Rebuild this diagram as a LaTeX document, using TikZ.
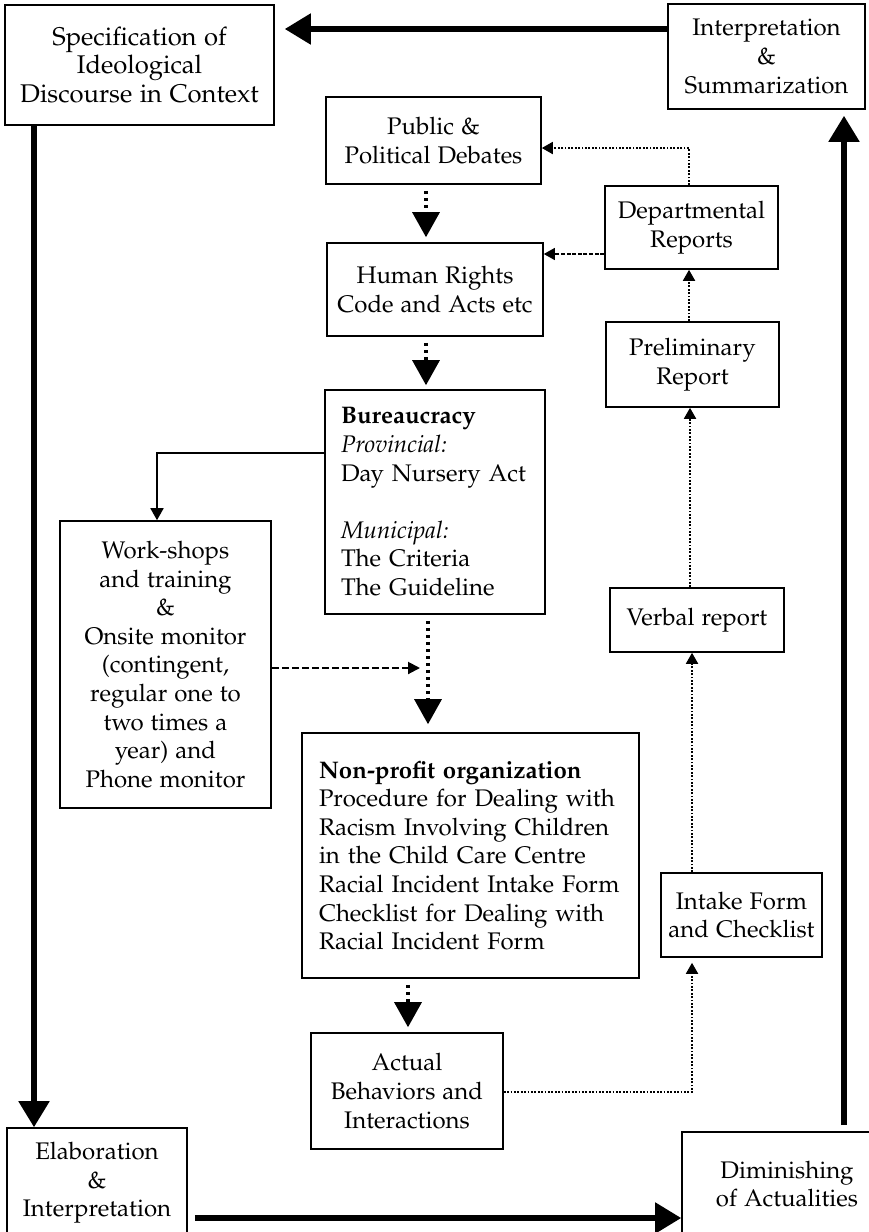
\documentclass[tikz,border=0pt]{standalone}
\usepackage[T1]{fontenc}
\usepackage{mathpazo}
\usetikzlibrary{arrows.meta}
\begin{document}
\begin{tikzpicture}[x=0.5pt,y=-0.5pt,
  box/.style={draw, line width=0.8pt, align=center, inner sep=0pt, font=\fontfamily{pplx}\fontsize{12}{14.3}\selectfont},
  big/.style={line width=2.6pt, -{Triangle[length=13pt,width=15pt]}},
  thickdot/.style={line width=1.6pt, dash pattern=on 1.6pt off 1.9pt, -{Triangle[length=12.5pt,width=13.5pt]}},
  thindot/.style={line width=0.9pt, dash pattern=on 0.9pt off 0.8pt, -{Triangle[length=5.5pt,width=6pt]}},
  thindash/.style={line width=0.6pt, dash pattern=on 2pt off 0.8pt, -{Triangle[length=5.5pt,width=6pt]}},
  dasharr/.style={line width=1pt, dash pattern=on 3.5pt off 1.5pt, -{Triangle[length=6pt,width=6pt]}},
  solidarr/.style={line width=0.9pt, -{Triangle[length=6pt,width=6.5pt]}}
]
\path[use as bounding box, fill=white] (0,0) rectangle (868,1232);

% nodes
\node[box, minimum width=134.5pt, minimum height=60pt, font=\fontfamily{pplx}\fontsize{12.8}{14.3}\selectfont] (spec) at (139.5,65)
  {Specification of\\Ideological\\Discourse in Context};
\node[box, minimum width=98.5pt, minimum height=52.5pt] (interp) at (766.5,56.5)
  {Interpretation\\\&\\Summarization};
\node[box, minimum width=107.5pt, minimum height=43.5pt] (public) at (433.5,140.5)
  {Public \&\\Political Debates};
\node[box, minimum width=108pt, minimum height=46.5pt] (human) at (435,289.5)
  {Human Rights\\Code and Acts etc};
\node[box, minimum width=86.5pt, minimum height=41.5pt] (dept) at (691.5,227.5)
  {Departmental\\Reports};
\node[box, minimum width=86.5pt, minimum height=42.5pt] (prelim) at (692.5,364.5)
  {Preliminary\\Report};
\node[box, minimum width=87pt, minimum height=32pt] (verbal) at (697,620)
  {Verbal report};
\node[box, minimum width=80.5pt, minimum height=42pt] (intake) at (741.5,915)
  {Intake Form\\and Checklist};
\node[box, minimum width=110pt, minimum height=112pt, align=left, text width=94pt] (bureau) at (435,502)
  {\textbf{Bureaucracy}\\\textit{Provincial:}\\Day Nursery Act\\[14.3pt]\textit{Municipal:}\\The Criteria\\The Guideline};
\node[box, minimum width=105.5pt, minimum height=143.5pt] (work) at (165.5,664.5)
  {Work-shops\\and training\\\&\\Onsite monitor\\(contingent,\\regular one to\\two times a\\year) and\\Phone monitor};
\node[box, minimum width=168.5pt, minimum height=122.5pt, align=left, text width=151.5pt] (nonprofit) at (470.5,855.5)
  {\textbf{Non-profit organization}\\Procedure for Dealing with\\Racism Involving Children\\in the Child Care Centre\\Racial Incident Intake Form\\Checklist for Dealing with\\Racial Incident Form};
\node[box, minimum width=96pt, minimum height=58pt] (actual) at (407,1091)
  {Actual\\Behaviors and\\Interactions};
\node[box, minimum width=90pt, minimum height=55pt] (elab) at (97,1183)
  {Elaboration\\\&\\Interpretation};
\node[box, minimum width=105pt, minimum height=52pt] (dimin) at (787,1184)
  {Diminishing\\of Actualities};

% helper coordinates
\coordinate (ty) at (0,29);
\coordinate (lx) at (34,0);
\coordinate (by) at (0,1218);
\coordinate (rx) at (844,0);
\coordinate (c1) at (426,0);
\coordinate (c2) at (428,0);
\coordinate (c3) at (408,0);
\coordinate (wy) at (0,453);
\coordinate (wx) at (157,0);
\coordinate (wk) at (420,668);
\coordinate (dx) at (689,0);
\coordinate (py) at (0,148);
\coordinate (hy) at (0,254);
\coordinate (vx) at (690,0);
\coordinate (ix) at (692,0);
\coordinate (ay) at (0,1092);

% main cycle
\draw[big, shorten >=5pt] (interp.west |- ty) -- (spec.east |- ty);
\draw[big] (spec.south -| lx) -- (elab.north -| lx);
\draw[big, shorten <=3.5pt] (elab.east |- by) -- (dimin.west |- by);
\draw[big, shorten <=3pt, shorten >=3pt] (dimin.north -| rx) -- (interp.south -| rx);

% centre column
\draw[thickdot, shorten <=3pt, shorten >=2.5pt] (public.south -| c1) -- (human.north -| c1);
\draw[thickdot, shorten <=3pt, shorten >=2pt] (human.south -| c1) -- (bureau.north -| c1);
\draw[thickdot, shorten <=3pt, shorten >=4pt] (bureau.south -| c2) -- (nonprofit.north -| c2);
\draw[thickdot, shorten <=3pt, shorten >=2.5pt] (nonprofit.south -| c3) -- (actual.north -| c3);
\draw[solidarr] (bureau.west |- wy) -| (work.north -| wx);
\draw[dasharr] (work.east |- wk) -- (wk);

% right column
\draw[thindot] (dept.north -| dx) |- (public.east |- py);
\draw[thindash] (dept.west |- hy) -- (human.east |- hy);
\draw[thindot] (prelim.north -| dx) -- (dept.south -| dx);
\draw[thindot] (verbal.north -| vx) -- (prelim.south -| vx);
\draw[thindot] (intake.north -| ix) -- (verbal.south -| ix);
\draw[thindot, shorten >=2.5pt] (actual.east |- ay) -| (intake.south -| ix);
\end{tikzpicture}
\end{document}
